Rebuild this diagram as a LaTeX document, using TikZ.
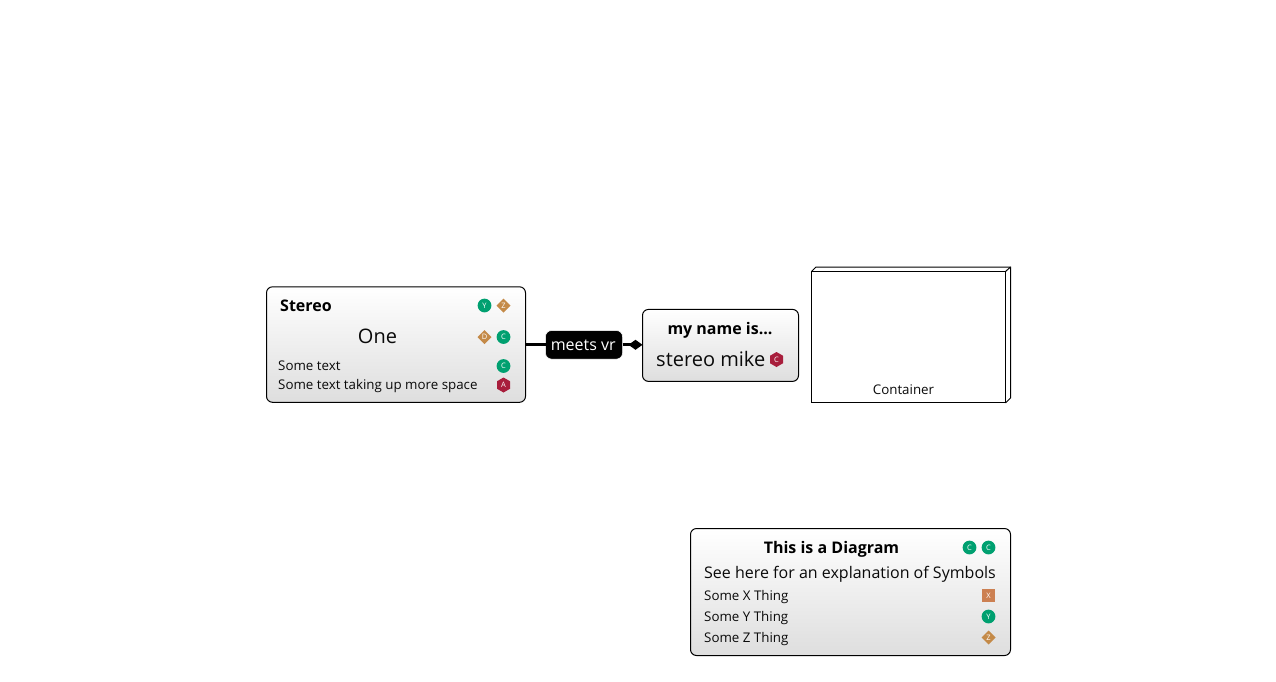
\documentclass[tikz,border=0pt]{standalone}
\usepackage{fontspec}
\setmainfont{Open Sans}
\usetikzlibrary{shapes.geometric,arrows.meta}
\definecolor{icgreen}{HTML}{00A070}
\definecolor{icdia}{HTML}{C48A48}
\definecolor{icred}{HTML}{A81E3C}
\definecolor{icsq}{HTML}{CC8052}
\definecolor{ink}{HTML}{0A0A0A}
\tikzset{
  x=1pt,y=-1pt,
  boxnode/.style={draw=black,line width=1pt,rounded corners=6pt,top color=white,bottom color=black!13,anchor=north west,inner sep=0pt,outer sep=0pt},
  titletext/.style={font=\fontsize{16}{16}\selectfont\bfseries,text=black,inner sep=0pt},
  midtext/.style={font=\fontsize{20}{20}\selectfont,text=ink,inner sep=0pt},
  subtext/.style={font=\fontsize{16}{16}\selectfont,text=ink,inner sep=0pt},
  listtext/.style={font=\fontsize{13.33}{14}\selectfont,text=ink,anchor=base west,inner sep=0pt},
  iconbase/.style={text=white,font=\fontsize{7.5}{7.5}\selectfont,inner sep=0pt,outer sep=0pt},
  iccirc/.style={iconbase,circle,fill=icgreen,minimum size=13.8pt},
  icdiam/.style={iconbase,diamond,fill=icdia,minimum size=14pt},
  ichex/.style={iconbase,regular polygon,regular polygon sides=6,shape border rotate=30,fill=icred,minimum size=15pt},
  icsquare/.style={iconbase,rectangle,fill=icsq,minimum size=13pt},
  conn/.style={draw=black,line width=3pt},
  linklabel/.style={fill=black,draw=white,line width=0.5pt,rounded corners=6pt,text=white,font=\fontsize{16}{16}\selectfont,minimum width=77pt,minimum height=28.5pt,inner sep=0pt,outer sep=0pt},
  contline/.style={draw=black,line width=1pt,fill=white}
}
\begin{document}
\begin{tikzpicture}
\useasboundingbox[fill=white] (0,0) rectangle (1276,681);
% Stereo
\node[boxnode,minimum width=259pt,minimum height=115.5pt] (stereo) at (266.5,286.8) {};
\node[titletext,anchor=base west] (t1) at (280,311) {Stereo};
\node[iccirc] (s1) at (484.5,305.5) {Y};
\node[icdiam] (s2) at (503.5,305.5) {Z};
\node[midtext,anchor=base] (t2) at (377.5,343.5) {One};
\node[icdiam] (s3) at (484.5,337) {D};
\node[iccirc] (s4) at (503.5,337) {C};
\node[listtext] (t3) at (278,370.6) {Some text};
\node[iccirc] (s5) at (503.5,366) {C};
\node[listtext] (t4) at (278,389.6) {Some text taking up more space};
\node[ichex] (s6) at (503.5,385) {A};
% Mike
\node[boxnode,minimum width=156pt,minimum height=72pt] (mike) at (642.5,309.4) {};
\node[titletext,anchor=base] (m1) at (720,334) {my name is...};
\node[midtext,anchor=base west] (m2) at (656,366.5) {stereo mike};
\node[ichex] (m3) at (776.5,359.5) {C};
% Link
\node[linklabel] (lab) at (584,344.8) {\hspace*{-1.5pt}meets vr};
\draw[conn] (stereo.east |- lab.west) -- (lab.west);
\draw[conn,-{Diamond[length=14pt,width=10pt,line width=0pt]}] (lab.east) -- (lab.east -| mike.west);
% Container
\draw[contline] (811.5,271.5) -- (816,267) -- (1010.5,267) -- (1010.5,398) -- (1005.5,403);
\draw[contline] (1005.5,271.5) -- (1010.5,267);
\node[draw=black,line width=1pt,fill=white,anchor=north west,minimum width=194pt,minimum height=131pt,inner sep=0pt,outer sep=0pt] (cont) at (811.5,271.5) {};
\node[listtext,anchor=base] (c1) at (903.5,394.6) {Container};
% Legend
\node[boxnode,minimum width=320pt,minimum height=127pt] (legend) at (690.5,528.5) {};
\node[titletext,anchor=base] (l1) at (831.5,553) {This is a Diagram};
\node[iccirc] (g1) at (969.5,547.5) {C};
\node[iccirc] (g2) at (988.5,547.5) {C};
\node[subtext,anchor=base west] (l2) at (704,578) {See here for an explanation of Symbols};
\node[listtext] (l3) at (704,600) {Some X Thing};
\node[icsquare] (g3) at (988.5,595.5) {X};
\node[listtext] (l4) at (704,621) {Some Y Thing};
\node[iccirc] (g4) at (988.5,616.5) {Y};
\node[listtext] (l5) at (704,642) {Some Z Thing};
\node[icdiam] (g5) at (988.5,637.5) {Z};
\end{tikzpicture}
\end{document}
